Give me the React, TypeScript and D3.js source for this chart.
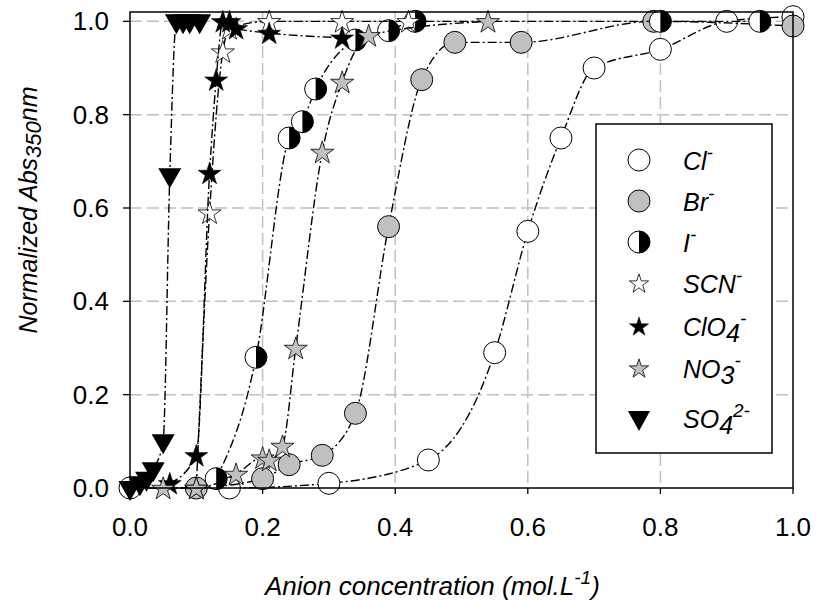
import React from "react";
import * as d3 from "d3";

const width = 816;
const height = 607;

// plot frame in pixels
const left = 130;
const right = 793;
const top = 12;
const bottom = 488;

// data: anion concentration (mol/L) vs normalized absorbance
const clConc = [0, 0.15, 0.3, 0.45, 0.55, 0.6, 0.65, 0.7, 0.8, 0.9, 1.0];
const clAbs = [0, 0, 0.01, 0.06, 0.29, 0.55, 0.75, 0.9, 0.94, 1.0, 1.01];

const brConc = [0.1, 0.2, 0.24, 0.29, 0.34, 0.39, 0.44, 0.49, 0.59, 0.79, 1.0];
const brAbs = [0, 0.02, 0.05, 0.07, 0.16, 0.56, 0.875, 0.955, 0.955, 1.0, 0.99];

const iConc = [0.13, 0.19, 0.24, 0.26, 0.28, 0.34, 0.39, 0.43, 0.8, 0.95];
const iAbs = [0.02, 0.28, 0.75, 0.785, 0.855, 0.96, 0.98, 1.0, 1.0, 1.0];

const scnConc = [0.1, 0.12, 0.14, 0.15, 0.21, 0.32, 0.42];
const scnAbs = [0, 0.59, 0.935, 0.985, 1.0, 1.0, 1.0];

const clo4Conc = [0.06, 0.1, 0.12, 0.13, 0.14, 0.15, 0.16, 0.21, 0.32];
const clo4Abs = [0.01, 0.07, 0.675, 0.875, 1.0, 1.0, 0.985, 0.975, 0.965];

const no3Conc = [0.05, 0.1, 0.16, 0.2, 0.21, 0.23, 0.25, 0.29, 0.32, 0.36, 0.54];
const no3Abs = [0, 0, 0.03, 0.065, 0.06, 0.09, 0.3, 0.72, 0.87, 0.97, 1.0];

const so4Conc = [0, 0.015, 0.025, 0.035, 0.05, 0.06, 0.07, 0.08, 0.09, 0.105];
const so4Abs = [0, 0.01, 0.02, 0.04, 0.1, 0.67, 1.0, 1.0, 1.0, 1.0];

const xTicks = [0, 0.2, 0.4, 0.6, 0.8, 1.0];
const yTicks = [0, 0.2, 0.4, 0.6, 0.8, 1.0];

const series = [
  { name: "Cl", sub: "", sup: "-", marker: "circle", fill: "white", x: clConc, y: clAbs },
  { name: "Br", sub: "", sup: "-", marker: "circle", fill: "#c0c0c0", x: brConc, y: brAbs },
  { name: "I", sub: "", sup: "-", marker: "half", fill: "white", x: iConc, y: iAbs },
  { name: "SCN", sub: "", sup: "-", marker: "star", fill: "white", x: scnConc, y: scnAbs },
  { name: "ClO", sub: "4", sup: "-", marker: "star", fill: "black", x: clo4Conc, y: clo4Abs },
  { name: "NO", sub: "3", sup: "-", marker: "star", fill: "#c0c0c0", x: no3Conc, y: no3Abs },
  { name: "SO", sub: "4", sup: "2-", marker: "tri", fill: "black", x: so4Conc, y: so4Abs },
];

const xScale = d3.scaleLinear().domain([0, 1]).range([left, right]);
const yScale = d3.scaleLinear().domain([0, 1.02]).range([bottom, top]);

const font = "'Liberation Sans', Arial, sans-serif";

const Marker = ({ kind, fill, x, y, big }: any) => {
  const r = 11;
  if (kind === "circle") {
    return <circle cx={x} cy={y} r={r} fill={fill} stroke="black" strokeWidth={1} />;
  }
  if (kind === "half") {
    return (
      <g transform={`translate(${x},${y})`}>
        <circle r={r} fill="white" stroke="black" strokeWidth={1} />
        <path d={`M0,${-r} A${r},${r} 0 0 1 0,${r} Z`} fill="black" />
      </g>
    );
  }
  if (kind === "star") {
    const size = big ? 165 : 115;
    const d = d3.symbol().type(d3.symbolStar).size(size)();
    return (
      <path
        d={d || ""}
        transform={`translate(${x},${y + 1})`}
        fill={fill}
        stroke="black"
        strokeWidth={fill === "black" ? 0.5 : 0.8}
      />
    );
  }
  // down triangle
  const w = big ? 11.5 : 11;
  return (
    <path
      d={`M${-w},-7 L${w},-7 L0,13 Z`}
      transform={`translate(${x},${y})`}
      fill="black"
    />
  );
};

const App = () => {
  const line = d3
    .line<[number, number]>()
    .x((d) => d[0])
    .y((d) => d[1])
    .curve(d3.curveMonotoneX);

  const legendY = [160, 201, 242, 283, 326, 368, 418];

  return (
    <svg
      width={width}
      height={height}
      style={{ position: "absolute", left: 0, top: 0, background: "white" }}
      fontFamily={font}
    >
      {/* grid */}
      {yTicks.slice(1).map((t, i) => (
        <line
          key={"gy" + i}
          x1={left}
          x2={right}
          y1={yScale(t)}
          y2={yScale(t)}
          stroke="#c0c0c0"
          strokeWidth={1.5}
          strokeDasharray="12,5"
        />
      ))}
      {xTicks.slice(1, -1).map((t, i) => (
        <line
          key={"gx" + i}
          x1={xScale(t)}
          x2={xScale(t)}
          y1={top}
          y2={bottom}
          stroke="#c0c0c0"
          strokeWidth={1.5}
          strokeDasharray="12,5"
        />
      ))}

      {/* series */}
      {series.map((s, si) => {
        const pts: [number, number][] = s.x.map((v, i) => [xScale(v), yScale(s.y[i])]);
        return (
          <g key={"s" + si}>
            <path
              d={line(pts) || ""}
              fill="none"
              stroke="black"
              strokeWidth={1.4}
              strokeDasharray="9,3,2,3"
            />
            {pts.map((p, i) => (
              <Marker key={i} kind={s.marker} fill={s.fill} x={p[0]} y={p[1]} big />
            ))}
          </g>
        );
      })}

      {/* frame */}
      <rect x={left} y={top} width={right - left} height={bottom - top} fill="none" stroke="black" strokeWidth={1.5} />

      {/* y axis ticks */}
      {yTicks.map((t, i) => (
        <g key={"yt" + i}>
          <line x1={left - 7} x2={left} y1={yScale(t)} y2={yScale(t)} stroke="black" strokeWidth={1.3} />
          <text x={left - 21} y={yScale(t) + 9} textAnchor="end" fontSize={26}>
            {d3.format(".1f")(t)}
          </text>
        </g>
      ))}
      {/* x axis ticks */}
      {xTicks.map((t, i) => (
        <g key={"xt" + i}>
          <line x1={xScale(t)} x2={xScale(t)} y1={bottom} y2={bottom + 6} stroke="black" strokeWidth={1.3} />
          <text x={xScale(t)} y={bottom + 48} textAnchor="middle" fontSize={26}>
            {d3.format(".1f")(t)}
          </text>
        </g>
      ))}

      {/* axis titles */}
      <text x={265} y={595} fontSize={26} fontStyle="italic">
        Anion concentration (mol.L
        <tspan dy={-11} fontSize={19}>-1</tspan>
        <tspan dy={11}>)</tspan>
      </text>
      <text transform="translate(37,210) rotate(-90)" textAnchor="middle" fontSize={25} fontStyle="italic">
        Normalized Abs
        <tspan dy={4} fontSize={22}>350</tspan>
        <tspan dy={-4}>nm</tspan>
      </text>

      {/* legend */}
      <rect x={596} y={124} width={176} height={329} fill="white" stroke="black" strokeWidth={1.5} />
      {series.map((s, i) => (
        <g key={"lg" + i}>
          <Marker kind={s.marker} fill={s.fill} x={639} y={legendY[i]} big={false} />
          <text x={683} y={legendY[i] + 10} fontSize={25} fontStyle="italic">
            {s.name}
            {s.sub ? <tspan dy={6}>{s.sub}</tspan> : null}
            <tspan dy={s.sub ? -17 : -11} fontSize={19}>
              {s.sup}
            </tspan>
          </text>
        </g>
      ))}
    </svg>
  );
};

export default App;
